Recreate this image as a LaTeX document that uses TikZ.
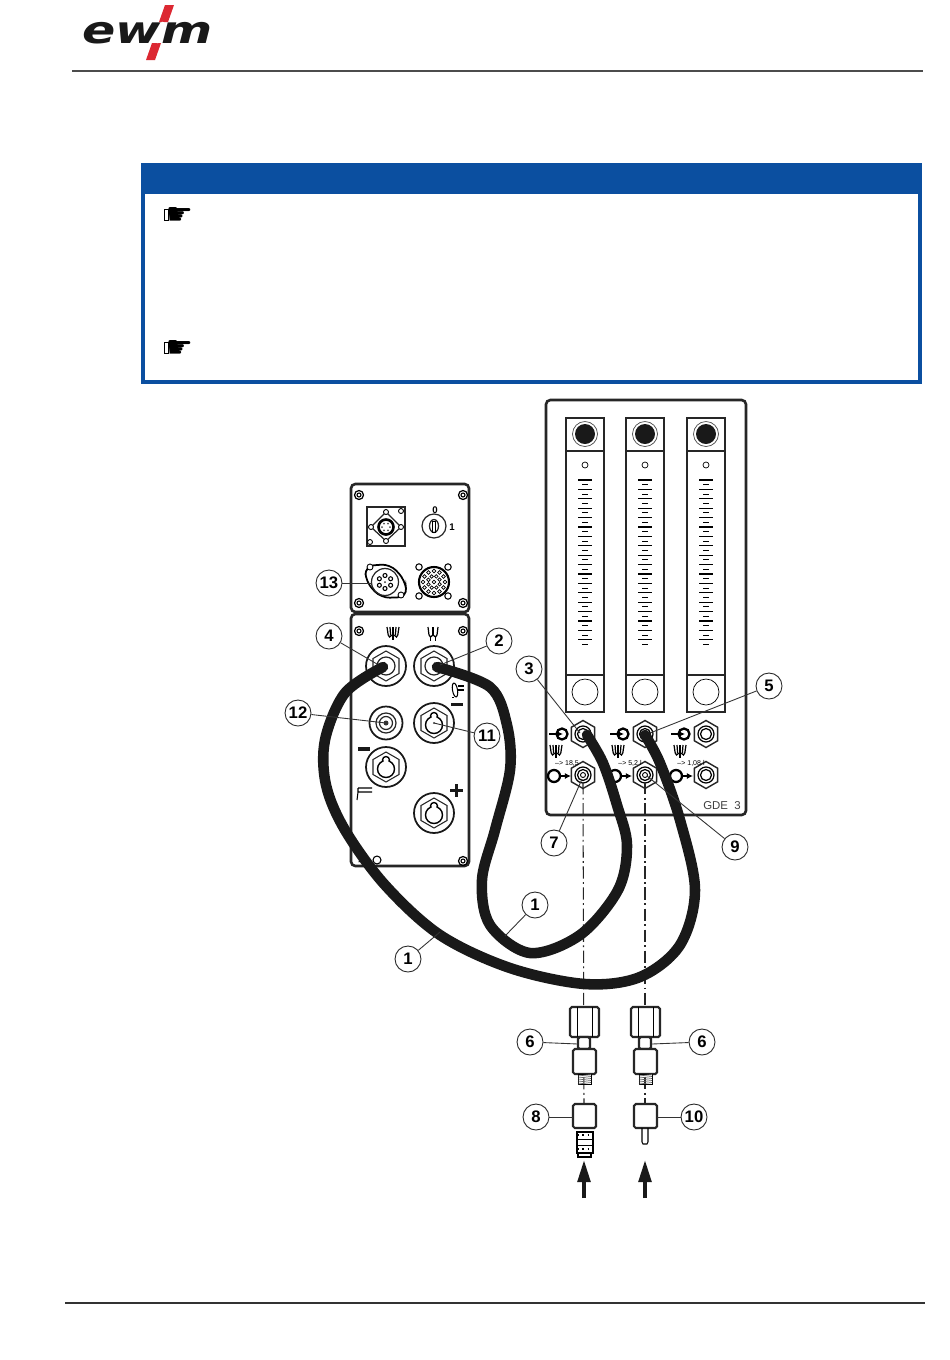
\documentclass[tikz,border=0pt]{standalone}
\usepackage{fontspec}
\setmainfont{Liberation Sans}
\newfontfamily\symbolfont{DejaVu Sans}
\usetikzlibrary{arrows.meta, shapes.geometric}

\tikzset{
	gasmark/.pic = {
		\foreach \t in {-6, -3, 0, 3, 6} {
			\draw [line width = 0.7pt] (\t, -7) -- (\t * 0.8, 1);
		}
		\draw [line width = 0.7pt] (-4.8, 1) -- (-3.5, 3) -- (-1, 1) (1, 1) -- (3.5, 3) -- (4.8, 1);
		\draw [line width = 0.6pt] (0, 1) -- (0, 6);
	},
	gasmarkdouble/.pic = {
		\foreach \t in {-5, 0, 5} {
			\draw [line width = 0.7pt] (\t, -7) -- (\t * 0.8, 1);
		}
		\draw [line width = 0.7pt] (-4, 1) -- (-2.5, 3) -- (0, 1) -- (2.5, 3) -- (4, 1);
		\draw [line width = 0.6pt] (-2.5, 3) -- (-2.5, 7) (2.5, 3) -- (2.5, 7);
	}
}

\begin{document}
\begin{tikzpicture}[
	> = latex, x = 0.02cm, y = -0.02cm,
	panel/.style = {draw = black!85, line width = 1.5pt, rounded corners = 2.5pt, fill = white},
	detail/.style = {draw = black!85, line width = 0.7pt},
	fitting/.style = {draw = black!85, line width = 1.2pt, rounded corners = 1pt, fill = white},
	cable/.style = {draw = black!90, line width = 6pt, line cap = round, line join = round},
	leader/.style = {draw = black!80, line width = 0.5pt},
	axisline/.style = {draw = black!85, line width = 0.6pt, dash pattern = on 7pt off 2pt on 1pt off 2pt},
	feed/.style = {draw = black!90, line width = 2.8pt, -{Triangle[length = 0.46cm, width = 0.24cm]}},
	numlabel/.style = {circle, draw = black!85, line width = 0.5pt, fill = white, minimum size = 0.52cm, inner sep = 0pt, font = \fontsize{9.5}{10}\selectfont\bfseries},
	socket/.style = {circle, draw = black!90, line width = 1pt, fill = white, minimum size = 0.8cm, inner sep = 0pt},
	hexnut/.style = {regular polygon, regular polygon sides = 6, regular polygon rotate = 30, draw = black!85, line width = 0.6pt, minimum size = 0.6cm, inner sep = 0pt},
	hexport/.style = {regular polygon, regular polygon sides = 6, regular polygon rotate = 30, draw = black!85, line width = 0.8pt, fill = white, minimum size = 0.54cm, inner sep = 0pt},
	bluebox/.style = {draw = boxblue, line width = 2.2pt}
]
	\definecolor{boxblue}{RGB}{11, 79, 160}
	\definecolor{logored}{RGB}{220, 40, 50}

	\useasboundingbox (0, 0) rectangle (950, 1360);
	\fill [white] (0, 0) rectangle (950, 1360);

	% Page header with logo

	\node [anchor = base west, inner sep = 0pt, text = black!90] (logo) at (82, 43) {\symbolfont\fontsize{21.5}{22}\selectfont\bfseries\itshape\scalebox{1.3}[1]{ewm}};
	\fill [logored] (165, 5) -- (174, 5) -- (168, 22) -- (159, 22) -- cycle;
	\fill [logored] (152, 43) -- (161, 43) -- (155, 60) -- (146, 60) -- cycle;
	\draw [white, line width = 1.2pt] (163, 22) -- (157, 43);
	\draw [black!70, line width = 0.8pt] (72, 71) -- (923, 71);

	% Page footer

	\draw [black!80, line width = 0.7pt] (65, 1303) -- (925, 1303);

	% Note box with its two hands

	\draw [bluebox] (143, 165) rectangle (920, 382);
	\fill [boxblue] (141, 163) rectangle (921, 194);
	\node [inner sep = 0pt] (handA) at (180, 216) {\symbolfont\fontsize{17}{18}\selectfont ☛};
	\node [inner sep = 0pt] (handB) at (180, 349) {\symbolfont\fontsize{17}{18}\selectfont ☛};
	\draw [line width = 0.4pt] (164, 209) rectangle (168, 220);
	\draw [line width = 0.4pt] (164, 342) rectangle (168, 353);

	% Flow meter panel

	\draw [panel] (546, 400) rectangle (746, 815);

	\foreach \x in {585, 645, 706} {
		\draw [detail] (\x - 19, 418) rectangle (\x + 19, 712);
		\draw [detail] (\x - 19, 451) -- (\x + 19, 451);
		\draw [detail] (\x - 19, 675) -- (\x + 19, 675);
		\draw [draw = black!70, line width = 0.4pt] (\x, 434) circle (12.5);
		\fill [black!90] (\x, 434) circle (10);
		\draw [line width = 0.4pt] (\x, 465) circle (3);
		\draw [line width = 0.4pt] (\x, 692) circle (13);
		\foreach \y in {480, 489.4, ..., 646} {
			\draw [line width = 0.6pt] (\x - 7, \y) -- (\x + 7, \y);
		}
		\foreach \y in {484.7, 494.1, ..., 646} {
			\draw [line width = 0.6pt] (\x - 3, \y) -- (\x + 3, \y);
		}
	}

	% Flow meter ports

	\node [hexport] (inA) at (583, 734) {};
	\node [hexport] (inB) at (645, 734) {};
	\node [hexport] (inC) at (706, 734) {};
	\node [hexport] (outA) at (583, 775) {};
	\node [hexport] (outB) at (645, 775) {};
	\node [hexport] (outC) at (706, 775) {};

	\foreach \x in {583, 645, 706} {
		\draw [line width = 0.7pt] (\x, 734) circle (8);
		\draw [line width = 0.7pt] (\x, 734) circle (5.5);
		\draw [line width = 0.7pt] (\x, 775) circle (8);
		\draw [line width = 0.7pt] (\x, 775) circle (5.5);
	}
	\foreach \x in {583, 645} {
		\draw [line width = 0.5pt] (\x, 775) circle (2.5);
	}

	\begin{scope}[line width = 1.3pt]
		\foreach \x in {0, 61, 122} {
			\draw (562 + \x, 734) circle (5.5);
			\draw [-{Latex[length = 3.5pt, width = 3.5pt]}] (549 + \x, 734) -- (563 + \x, 734);
			\draw (554 + \x, 776) circle (6);
			\draw [-{Latex[length = 3.5pt, width = 3.5pt]}] (559 + \x, 776) -- (571 + \x, 776);
		}
	\end{scope}

	\pic at (556, 752) {gasmark};
	\pic at (618, 752) {gasmark};
	\pic at (680, 752) {gasmark};

	\node [font = \fontsize{4}{4}\selectfont, inner sep = 0pt] (rateA) at (567, 763) {--> 18,5};
	\node [font = \fontsize{4}{4}\selectfont, inner sep = 0pt] (rateB) at (630, 763) {--> 5,2 l};
	\node [font = \fontsize{4}{4}\selectfont, inner sep = 0pt] (rateC) at (691, 763) {--> 1,08 l};
	\node [font = \fontsize{6.5}{7}\selectfont, text = black!75, inner sep = 0pt] (gdeName) at (722, 806) {GDE\ \ 3};

	% Upper control panel

	\draw [panel] (351, 484) rectangle (469, 612);

	\foreach \p in {(359, 495), (463, 495), (359, 603), (463, 603)} {
		\draw [line width = 0.7pt] \p circle (4.5);
		\draw [line width = 0.6pt] \p circle (2);
	}

	\draw [detail] (367, 507) rectangle (405, 546);
	\draw [detail] (386, 512) -- (401, 527) -- (386, 541) -- (371, 527) -- cycle;
	\foreach \p in {(386, 512), (401, 527), (386, 541), (371, 527), (401, 511), (370, 542)} {
		\draw [line width = 0.5pt, fill = white] \p circle (2.5);
	}
	\draw [line width = 1.5pt] (386, 527) circle (7.5);
	\foreach \a in {0, 60, ..., 300} {
		\fill [black!70] (386, 527) ++(\a : 4) circle (1);
	}

	% Key switch

	\draw [detail] (434, 526) circle (12);
	\draw [detail] (434, 526) ellipse (4.5 and 6.5);
	\draw [line width = 0.5pt] (432.5, 521) rectangle (435.5, 532);
	\node [font = \fontsize{5.5}{6}\selectfont\bfseries, inner sep = 0pt] (switchOff) at (435, 510) {0};
	\node [font = \fontsize{5.5}{6}\selectfont\bfseries, inner sep = 0pt] (switchOn) at (452, 527) {1};

	% Control socket and round plug

	\draw [line width = 1pt, rounded corners = 5pt] (365, 566) -- (390, 564) -- (405, 580) -- (407, 597) -- (381, 598) -- (366, 582) -- cycle;
	\draw [line width = 0.5pt, fill = white] (370, 567) circle (3);
	\draw [line width = 0.5pt, fill = white] (401, 595) circle (3);
	\draw [detail] (385, 582) circle (13.5);
	\foreach \a in {30, 90, ..., 330} {
		\draw [line width = 0.6pt] (385, 582) ++(\a : 6.5) circle (2);
	}
	\fill [black!80] (385, 582) circle (1);

	\foreach \p in {(419, 567), (448, 567), (419, 596), (448, 596)} {
		\draw [line width = 0.6pt, fill = white] \p circle (3.2);
	}
	\draw [line width = 1.2pt] (434, 582) circle (15);
	\foreach \a in {0, 30, ..., 330} {
		\draw [line width = 0.4pt] (434, 582) ++(\a : 11) circle (1.8);
	}
	\foreach \a in {0, 45, ..., 315} {
		\draw [line width = 0.4pt] (434, 582) ++(\a + 22 : 6) circle (1.8);
	}
	\draw [line width = 0.4pt] (434, 582) circle (1.8);

	% Lower welding panel

	\draw [panel] (351, 614) rectangle (469, 866);

	\foreach \p in {(359, 631), (463, 631), (463, 861)} {
		\draw [line width = 0.7pt] \p circle (4.5);
		\draw [line width = 0.6pt] \p circle (2);
	}
	\draw [line width = 0.6pt] (377, 860) circle (4);
	\fill [black!90] (358, 862) -- (366, 857) -- (371, 862) -- cycle;

	\node [socket] (sockGasA) at (386, 666) {};
	\node [socket] (sockGasB) at (434, 666) {};
	\node [socket, minimum size = 0.66cm] (sockCoax) at (386, 723) {};
	\node [socket] (sockKeyA) at (434, 723) {};
	\node [socket] (sockKeyB) at (386, 767) {};
	\node [socket] (sockKeyC) at (434, 813) {};

	\node [hexnut] (nutGasA) at (sockGasA) {};
	\node [hexnut] (nutGasB) at (sockGasB) {};
	\node [hexnut] (nutKeyA) at (sockKeyA) {};
	\node [hexnut] (nutKeyB) at (sockKeyB) {};
	\node [hexnut] (nutKeyC) at (sockKeyC) {};

	\draw [detail] (386, 666) circle (9);
	\draw [detail] (434, 666) circle (9);
	\draw [detail] (386, 723) circle (10);
	\draw [detail] (386, 723) circle (6.5);
	\fill [black!80] (386, 723) circle (2.5);

	% Key holes of the power sockets

	\foreach \p in {(434, 723), (386, 767), (434, 813)} {
		\draw [line width = 0.8pt, fill = white] \p ++(0, -7) circle (3.5);
		\draw [line width = 0.8pt, fill = white] \p ++(0, 2) circle (8.5);
		\fill [white] \p ++(0, -6) circle (2.5);
	}
	\fill [black!70] (434, 723) circle (1.2);

	\pic at (393, 634) {gasmark};
	\pic at (433, 634) {gasmarkdouble};

	% Polarity signs and torch symbols

	\fill [black!90] (451, 703) rectangle (463, 706);
	\fill [black!90] (358, 747) rectangle (370, 751);
	\fill [black!90] (450, 788.5) rectangle (463, 792);
	\fill [black!90] (454.8, 784) rectangle (458.2, 797);

	\draw [line width = 0.6pt, rotate around = {10 : (455, 690)}] (455, 690) ellipse (2.5 and 7);
	\draw [line width = 0.6pt] (458, 686) -- (464, 686) (458, 690) -- (464, 690) (453, 697) -- (453, 698);
	\draw [line width = 0.6pt] (358, 788) -- (372, 788) (358, 792) -- (372, 792) (358, 788) -- (358, 792) -- (357, 800);

	% Axes down to the fittings

	\coordinate (axisTopA) at (583, 782);
	\coordinate (axisTopB) at (645, 782);
	\coordinate (axisEndA) at (584, 1104);
	\coordinate (axisEndB) at (645, 1104);
	\draw [axisline] (axisTopA) -- (axisEndA);
	\draw [axisline] (axisTopB) -- (axisEndB);

	% Fittings

	\foreach \x in {0, 61} {
		\draw [fitting] (570 + \x, 1007) rectangle (599 + \x, 1037);
		\draw [line width = 0.5pt] (577 + \x, 1007) -- (577 + \x, 1037) (592 + \x, 1007) -- (592 + \x, 1037);
		\draw [fitting] (578 + \x, 1037) rectangle (590 + \x, 1049);
		\draw [fitting] (573 + \x, 1049) rectangle (596 + \x, 1074);
		\draw [line width = 0.4pt] (578 + \x, 1074) rectangle (591 + \x, 1084);
		\foreach \y in {1076, 1078, ..., 1084} {
			\draw [black!60, line width = 0.4pt] (578 + \x, \y) -- (591 + \x, \y - 1.5);
		}
	}

	\draw [fitting] (573, 1104) rectangle (596, 1128);
	\draw [line width = 0.7pt] (577, 1132) rectangle (593, 1153);
	\draw [line width = 0.7pt] (578, 1153) rectangle (591, 1157);
	\draw [line width = 1pt, dotted] (577, 1135) -- (593, 1135) (577, 1149) -- (593, 1149);
	\draw [line width = 0.5pt] (577, 1139) -- (593, 1139) (577, 1145) -- (593, 1145);

	\draw [fitting] (634, 1104) rectangle (657, 1128);
	\draw [line width = 0.6pt] (642, 1128) -- (642, 1142) -- (643, 1144) -- (647, 1144) -- (648, 1142) -- (648, 1128);

	% Feed arrows

	\coordinate (feedFromA) at (584, 1198);
	\coordinate (feedToA) at (584, 1159);
	\coordinate (feedFromB) at (645, 1198);
	\coordinate (feedToB) at (645, 1159);
	\draw [feed] (feedFromA) -- (feedToA);
	\draw [feed] (feedFromB) -- (feedToB);

	% Hoses

	\draw [cable] plot [smooth, tension = 0.55] coordinates {(383, 667) (345, 693) (325, 740) (326, 785) (345, 830) (385, 885) (440, 935) (510, 968) (585, 984) (640, 977) (680, 945) (695, 890) (680, 820) (660, 763) (645, 735)};
	\draw [cable] plot [smooth, tension = 0.55] coordinates {(437, 667) (490, 687) (507, 725) (510, 770) (495, 830) (482, 880) (490, 925) (530, 953) (580, 935) (618, 890) (627, 845) (617, 805) (603, 763) (587, 735)};

	% Numbered labels

	\node [numlabel] (numThirteen) at (329, 583) {13};
	\node [numlabel] (numFour) at (329, 636) {4};
	\node [numlabel] (numTwo) at (499, 641) {2};
	\node [numlabel] (numTwelve) at (298, 713) {12};
	\node [numlabel] (numEleven) at (487, 736) {11};
	\node [numlabel] (numThree) at (529, 669) {3};
	\node [numlabel] (numFive) at (769, 686) {5};
	\node [numlabel] (numSeven) at (554, 843) {7};
	\node [numlabel] (numNine) at (735, 847) {9};
	\node [numlabel] (numOneA) at (535, 905) {1};
	\node [numlabel] (numOneB) at (408, 959) {1};
	\node [numlabel] (numSixA) at (530, 1042) {6};
	\node [numlabel] (numSixB) at (702, 1042) {6};
	\node [numlabel] (numEight) at (536, 1117) {8};
	\node [numlabel] (numTen) at (694, 1117) {10};

	% Leader lines

	\coordinate (endThirteen) at (372, 583);
	\coordinate (endFour) at (377, 664);
	\coordinate (endTwo) at (440, 665);
	\coordinate (endTwelve) at (386, 723);
	\coordinate (endEleven) at (434, 723);
	\coordinate (endThree) at (580, 733);
	\coordinate (endFive) at (650, 733);
	\coordinate (endSeven) at (582, 779);
	\coordinate (endNine) at (647, 776);
	\coordinate (endOneA) at (505, 936);
	\coordinate (endOneB) at (440, 932);
	\coordinate (endSixA) at (578, 1044);
	\coordinate (endSixB) at (652, 1044);
	\coordinate (endEight) at (573, 1117);
	\coordinate (endTen) at (657, 1117);

	\begin{scope}[leader]
		\draw (numThirteen) -- (endThirteen);
		\draw (numFour) -- (endFour);
		\draw (numTwo) -- (endTwo);
		\draw (numTwelve) -- (endTwelve);
		\draw (numEleven) -- (endEleven);
		\draw (numThree) -- (endThree);
		\draw (numFive) -- (endFive);
		\draw (numSeven) -- (endSeven);
		\draw (numNine) -- (endNine);
		\draw (numOneA) -- (endOneA);
		\draw (numOneB) -- (endOneB);
		\draw (numSixA) -- (endSixA);
		\draw (numSixB) -- (endSixB);
		\draw (numEight) -- (endEight);
		\draw (numTen) -- (endTen);
	\end{scope}

\end{tikzpicture}
\end{document}
